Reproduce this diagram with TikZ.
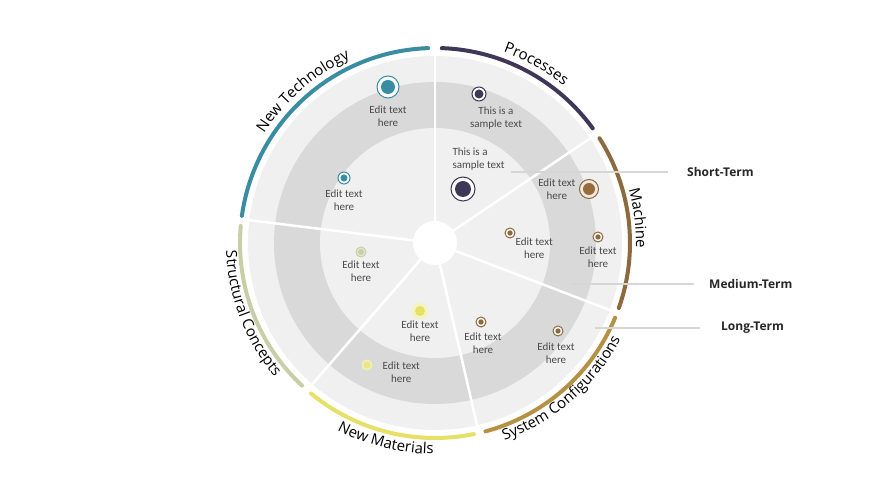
\documentclass[tikz,border=0pt]{standalone}
\usepackage{fontspec}
\setmainfont{Open Sans}
\newfontfamily\catfont{Open Sans}
\newfontfamily\smallfont{Carlito}
\usetikzlibrary{positioning,decorations.text}

\definecolor{ntc}{HTML}{3A8CA3}
\definecolor{prc}{HTML}{3E3758}
\definecolor{mac}{HTML}{8C6A3E}
\definecolor{scc}{HTML}{B59146}
\definecolor{nmc}{HTML}{E6E066}
\definecolor{stc}{HTML}{C8CFA8}
\definecolor{bandlight}{HTML}{F0F0F0}
\definecolor{banddark}{HTML}{D9D9D9}
\definecolor{txtgray}{HTML}{4A4A4A}
\definecolor{termgray}{HTML}{D6D6D6}
\definecolor{lblgray}{HTML}{262626}

\tikzset{
  bullet/.style={circle, draw=#1, fill=white, line width=1pt, inner sep=0pt},
  smalltxt/.style={font=\smallfont\fontsize{11}{13}\selectfont, text=txtgray, align=center, inner sep=0pt},
  arcline/.style={line width=4pt, line cap=round},
  divider/.style={white, line width=2.5pt},
  termline/.style={draw=termgray, line width=2.5pt},
  termlbl/.style={font=\catfont\bfseries\fontsize{12}{14}\selectfont, text=lblgray, inner sep=0pt, anchor=west},
  catpath/.style={decorate, decoration={text along path, text align=center,
      text={|\catfont\fontsize{15}{18}\selectfont|#1}}},
}

\begin{document}
\begin{tikzpicture}[x=1pt,y=1pt]
  \useasboundingbox (-435,-246) rectangle (435,243);

  % disk and rings
  \fill[bandlight] (0,0) circle (187pt);
  \fill[banddark] (0,0) circle (161pt);
  \fill[bandlight] (0,0) circle (115pt);
  \foreach \a in {90,34,-21,-77,-131,173}
    \draw[divider] (0,0) -- (\a:190pt);
  \fill[white] (0,0) circle (22pt);

  % outer arcs
  \draw[arcline, ntc] (92:195pt) arc[start angle=92, end angle=172, radius=195pt];
  \draw[arcline, prc] (36:195pt) arc[start angle=36, end angle=88, radius=195pt];
  \draw[arcline, mac] (-19.5:195pt) arc[start angle=-19.5, end angle=32.5, radius=195pt];
  \draw[arcline, scc] (-75:195pt) arc[start angle=-75, end angle=-22.5, radius=195pt];
  \draw[arcline, nmc] (-129.5:195pt) arc[start angle=-129.5, end angle=-78.5, radius=195pt];
  \draw[arcline, stc] (175:195pt) arc[start angle=175, end angle=227, radius=195pt];

  % curved labels
  \path[catpath={New Technology}] (171:203pt) arc[start angle=171, end angle=91, radius=203pt];
  \path[catpath={Processes}] (100:203pt) arc[start angle=100, end angle=21, radius=203pt];
  \path[catpath={Machine}] (47:201pt) arc[start angle=47, end angle=-33, radius=201pt];
  \path[catpath={System Configurations}] (-89:209pt) arc[start angle=-89, end angle=-9, radius=209pt];
  \path[catpath={New Materials}] (-144:211pt) arc[start angle=-144, end angle=-64, radius=211pt];
  \path[catpath={Structural Concepts}] (161:209pt) arc[start angle=161, end angle=241, radius=209pt];

  % New Technology
  \node (nt1) [bullet=ntc, minimum size=22pt] at (-47,156) {};
  \fill[ntc] (nt1.center) circle (7pt);
  \node (nt1t) [smalltxt, below=7pt of nt1] {Edit text\\here};
  \node (nt2) [bullet=ntc, minimum size=12pt] at (-91,65) {};
  \fill[ntc] (nt2.center) circle (3.5pt);
  \node (nt2t) [smalltxt, below=5.5pt of nt2] {Edit text\\here};

  % Processes
  \node (pr1) [bullet=prc, minimum size=14pt] at (44,149) {};
  \fill[prc] (pr1.center) circle (4.5pt);
  \node (pr1t) [smalltxt, below=5.5pt of pr1, xshift=17pt] {This is a\\sample text};
  \node (pr2) [bullet=prc, minimum size=24pt] at (28,54) {};
  \fill[prc] (pr2.center) circle (8pt);
  \node (pr2t) [smalltxt, align=left, above=6pt of pr2, xshift=15.5pt] {This is a\\sample text};

  % Machine
  \node (ma1) [bullet=mac, fill=mac!15, minimum size=19pt] at (154,54) {};
  \fill[mac!90!orange] (ma1.center) circle (6pt);
  \node (ma1t) [smalltxt, left=3.5pt of ma1] {Edit text\\here};
  \node (ma2) [bullet=mac, minimum size=10pt] at (75,10) {};
  \fill[mac] (ma2.center) circle (2.7pt);
  \node (ma2t) [smalltxt, right=0pt of ma2, yshift=-15pt] {Edit text\\here};
  \node (ma3) [bullet=mac, minimum size=10pt] at (163,6) {};
  \fill[mac] (ma3.center) circle (2.7pt);
  \node (ma3t) [smalltxt, below=4.5pt of ma3] {Edit text\\here};

  % System Configurations
  \node (sc1) [bullet=mac, minimum size=10pt] at (46,-79) {};
  \fill[mac] (sc1.center) circle (2.7pt);
  \node (sc1t) [smalltxt, below=5.5pt of sc1, xshift=2pt] {Edit text\\here};
  \node (sc2) [bullet=mac, minimum size=10pt] at (123,-88) {};
  \fill[mac] (sc2.center) circle (2.7pt);
  \node (sc2t) [smalltxt, below=6.5pt of sc2, xshift=-2pt] {Edit text\\here};

  % New Materials
  \node (nm1) [bullet=nmc!40, fill=nmc!40, minimum size=16pt] at (-15,-68) {};
  \fill[nmc] (nm1.center) circle (5pt);
  \node (nm1t) [smalltxt, below=1.5pt of nm1] {Edit text\\here};
  \node (nm2) [bullet=nmc!50, fill=nmc!50, minimum size=10pt] at (-68,-122) {};
  \fill[nmc!80] (nm2.center) circle (3.5pt);
  \node (nm2t) [smalltxt, right=10pt of nm2, yshift=-7pt] {Edit text\\here};

  % Structural Concepts
  \node (st1) [bullet=stc, fill=stc!50, minimum size=10pt] at (-74,-9) {};
  \fill[stc] (st1.center) circle (3pt);
  \node (st1t) [smalltxt, below=3.5pt of st1] {Edit text\\here};

  % term lines
  \coordinate (short) at (76,71);
  \coordinate (medium) at (137,-41);
  \coordinate (long) at (160,-85);
  \node (shortl) [termlbl] at (252,71) {Short-Term};
  \node (mediuml) [termlbl] at (274,-41) {Medium-Term};
  \node (longl) [termlbl] at (286,-85) {Long-Term};
  \draw[termline, shorten >=19pt] (short) -- (shortl.west);
  \draw[termline, shorten >=15pt] (medium) -- (mediuml.west);
  \draw[termline, shorten >=21pt] (long) -- (longl.west);
\end{tikzpicture}
\end{document}
